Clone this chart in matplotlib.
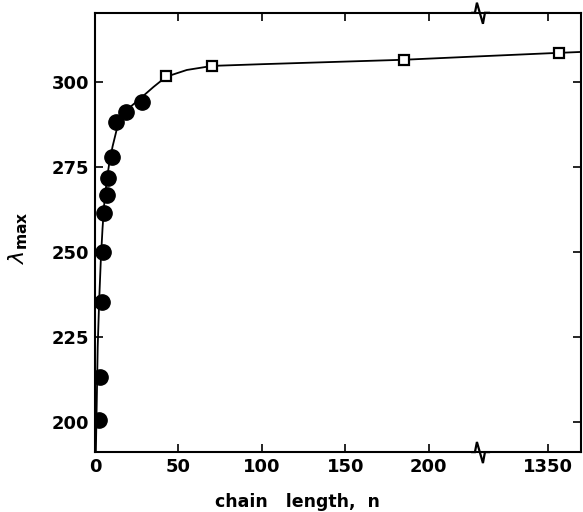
import matplotlib
matplotlib.use('Agg')
import matplotlib.pyplot as plt
import matplotlib.transforms as mtransforms
import numpy as np

plt.rcParams['font.family'] = ['DejaVu Sans']

# measured points (chain length n, lambda max)
circle_n = [2.4, 3, 4.2, 5, 5.5, 7, 8, 10, 12.5, 18.5, 28]
circle_l = [200.6, 213.2, 235.3, 250, 261.5, 266.8, 271.8, 277.9, 288.2, 291.2, 294.1]
square_n = [42.6, 70.3, 185, 1400]
square_l = [301.8, 304.7, 306.5, 308.5]

# smooth curve
curve_n = [0.5, 1.0, 1.6, 2.5, 3.5, 4.5, 5.5, 7, 8.5, 10.5, 13, 17, 22, 28, 35, 42.6,
           55, 70.3, 100, 185, 230, 1350, 1500]
curve_l = [191.5, 205, 222, 236, 248, 257, 264, 271, 276, 281, 286, 290.5, 293, 295.5,
           298.5, 301.5, 303.5, 304.7, 305.2, 306.5, 307.5, 308.4, 308.8]

xticks = [0, 50, 100, 150, 200, 1350]
yticks = [200, 225, 250, 275, 300]

# broken x axis: linear up to 230, compressed beyond
_src = [0, 230, 1300, 1500]
_dst = [0, 230, 265, 291.3]


def fwd(x):
    return np.interp(x, _src, _dst)


def inv(x):
    return np.interp(x, _dst, _src)


fig = plt.figure(figsize=(5.83, 5.12), dpi=100)
ax = fig.add_axes([0.163, 0.117, 0.834, 0.858])
ax.set_xscale('function', functions=(fwd, inv))

ax.plot(curve_n, curve_l, color='black', lw=1.3, zorder=2)
ax.plot(circle_n, circle_l, 'o', color='black', ms=11, zorder=3)
ax.plot(square_n, square_l, 's', mfc='white', mec='black', mew=1.6, ms=7.5, zorder=4)

ax.set_xlim(0, 1500)
ax.set_ylim(191.2, 320.3)
ax.set_xticks(xticks)
ax.set_xticklabels([str(t) for t in xticks])
ax.set_yticks(yticks)
ax.tick_params(direction='in', length=6, width=1.2, top=True, right=True,
               labelsize=13, pad=4)
for lab in ax.get_xticklabels() + ax.get_yticklabels():
    lab.set_fontweight('bold')
for sp in ax.spines.values():
    sp.set_linewidth(1.5)

# break marks on top and bottom spines (offsets given in the linear plot space)
trans = mtransforms.blended_transform_factory(ax.transData, ax.transAxes)
xb = 230
zx = inv(np.array([xb - 4, xb - 2.4, xb - 1.2, xb + 2.4, xb + 3.6, xb + 6]))
for y0 in (0.0, 1.0):
    zy = [y0, y0, y0 + 0.023, y0 - 0.025, y0, y0]
    ax.plot(zx, zy, color='black', lw=1.6, transform=trans, clip_on=False,
            solid_joinstyle='miter')

fig.text(297 / 583, 1 - 502 / 512, 'chain   length,  n', fontsize=12.5,
         fontweight='bold', ha='center', va='center')
fig.text(18 / 583, 1 - 238 / 512, r'$\lambda_{\bf max}$', fontsize=16,
         rotation=90, ha='center', va='center')

plt.savefig('out.png', dpi=100)
plt.close()
